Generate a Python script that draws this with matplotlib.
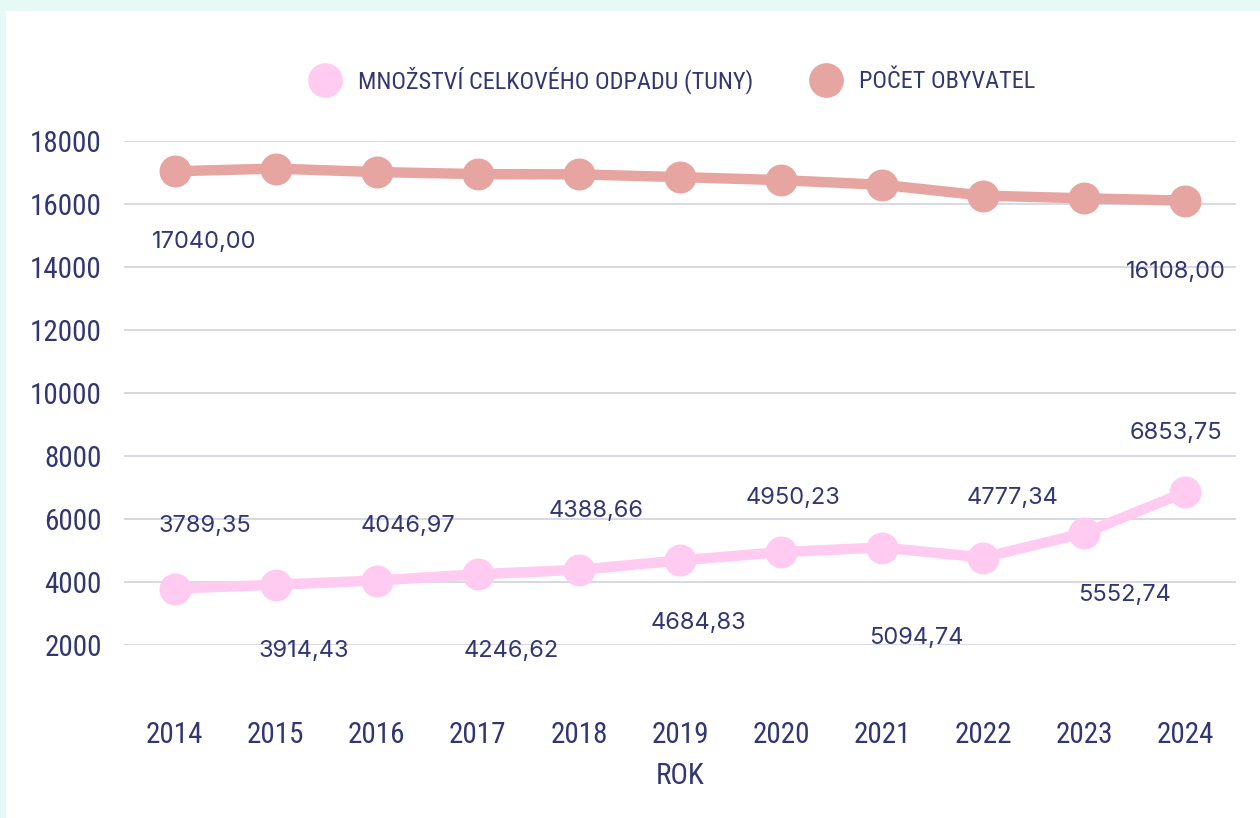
import matplotlib
matplotlib.use("Agg")
import matplotlib.pyplot as plt
from matplotlib import font_manager as fm
from matplotlib.lines import Line2D
from matplotlib.patches import Rectangle

# ---- data ----
years = [2014, 2015, 2016, 2017, 2018, 2019, 2020, 2021, 2022, 2023, 2024]
waste_tons = [3789.35, 3914.43, 4046.97, 4246.62, 4388.66, 4684.83,
              4950.23, 5094.74, 4777.34, 5552.74, 6853.75]
population = [17040, 17124, 17014, 16950, 16941, 16854,
              16758, 16610, 16266, 16180, 16108]
population_labelled = [0, 10]
series_names = ["MNOŽSTVÍ CELKOVÉHO ODPADU (TUNY)", "POČET OBYVATEL"]
y_ticks = [2000, 4000, 6000, 8000, 10000, 12000, 14000, 16000, 18000]
x_title = "ROK"

# ---- styling ----
waste_offsets = [(30, 63), (28, -66), (31, 55), (33, -77), (17, 59), (18, -63),
                 (12, 54), (34, -90), (29, 60), (40, -62), (-10, 59)]
pop_offsets = {0: (30, -71), 10: (-10, -71)}

TXT = "#323672"
PINK = "#ffcbf0"
ROSE = "#e6a5a0"
GRID = "#d6d6e3"
MINT = "#e5faf4"

names = {f.name for f in fm.fontManager.ttflist}
cond = None
for cand in ["Liberation Sans Narrow", "DejaVu Sans Condensed", "Roboto Condensed",
             "Open Sans Condensed", "Noto Sans Condensed"]:
    if cand in names:
        cond = cand
        break
cond_kw = {"family": cond} if cond else {"family": "DejaVu Sans", "stretch": "condensed"}
label_family = "Inter" if "Inter" in names else "DejaVu Sans"

W, H = 1260, 818
fig = plt.figure(figsize=(W / 100, H / 100), dpi=100)
fig.patch.set_facecolor(MINT)
fig.patches.append(Rectangle((6 / W, 0), 1, (H - 11) / H, transform=fig.transFigure,
                             facecolor="white", edgecolor="none", zorder=-10))

ax = fig.add_axes([124 / W, (H - 645) / H, (1236 - 124) / W, (645 - 141) / H])
ax.set_zorder(2)
ax.set_facecolor("none")
ax.set_xlim(years[0] - 0.5, years[-1] + 0.5)
ax.set_ylim(y_ticks[0], y_ticks[-1])
for s in ax.spines.values():
    s.set_visible(False)
ax.set_yticks(y_ticks)
ax.set_xticks(years)
ax.set_xticklabels([str(y) for y in years])
ax.grid(axis="y", color=GRID, linewidth=1.3)
ax.grid(axis="x", visible=False)
ax.set_axisbelow(True)
ax.tick_params(axis="both", length=0, colors=TXT)
ax.tick_params(axis="y", pad=16)
ax.tick_params(axis="x", pad=55)
for lab in ax.get_xticklabels() + ax.get_yticklabels():
    lab.set_fontproperties(fm.FontProperties(size=21, **cond_kw))
    lab.set_color(TXT)

ax.plot(years, waste_tons, color=PINK, lw=7.5, marker="o", markersize=22,
        solid_capstyle="round", clip_on=False, zorder=3)
ax.plot(years, population, color=ROSE, lw=7.5, marker="o", markersize=22,
        solid_capstyle="round", clip_on=False, zorder=3)

def fmt(v):
    return f"{v:.2f}".replace(".", ",")

for i, (x, v) in enumerate(zip(years, waste_tons)):
    dx, dy = waste_offsets[i]
    ax.annotate(fmt(v), (x, v), xytext=(dx, dy), textcoords="offset pixels",
                ha="center", va="center", fontsize=17, family=label_family,
                color=TXT, zorder=5, annotation_clip=False)
for i in population_labelled:
    dx, dy = pop_offsets[i]
    ax.annotate(fmt(population[i]), (years[i], population[i]), xytext=(dx, dy),
                textcoords="offset pixels", ha="center", va="center", fontsize=17,
                family=label_family, color=TXT, zorder=5, annotation_clip=False)

ax.set_xlabel(x_title, color=TXT, labelpad=9,
              fontproperties=fm.FontProperties(size=21, **cond_kw))

handles = [Line2D([], [], linestyle="none", marker="o", markersize=25,
                  markerfacecolor=c, markeredgecolor="none") for c in (PINK, ROSE)]
leg = fig.legend(handles, series_names, loc="center", bbox_to_anchor=(668 / W, (H - 80) / H),
                 ncol=2, frameon=False, handletextpad=0.35, columnspacing=2.0,
                 prop=fm.FontProperties(size=17.5, **cond_kw))
for t in leg.get_texts():
    t.set_color(TXT)

fig.savefig("out.png", dpi=100, facecolor=fig.get_facecolor())
